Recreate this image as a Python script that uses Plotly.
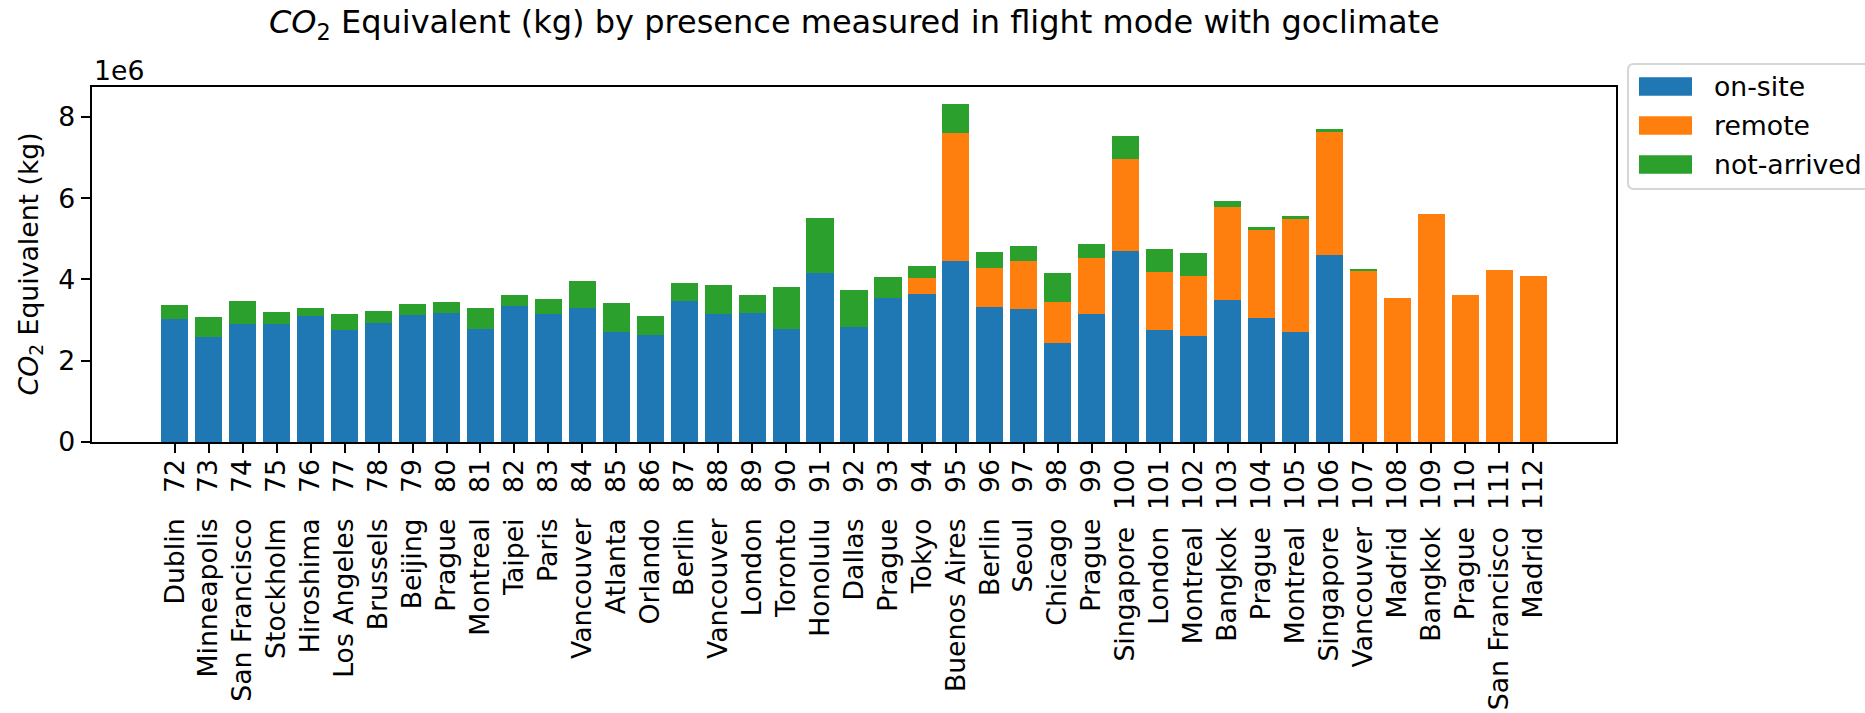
import plotly.graph_objects as go

# Event sites (one bar per event id)
cities = ["Dublin", "Minneapolis", "San Francisco", "Stockholm", "Hiroshima", "Los Angeles",
          "Brussels", "Beijing", "Prague", "Montreal", "Taipei", "Paris", "Vancouver",
          "Atlanta", "Orlando", "Berlin", "Vancouver", "London", "Toronto", "Honolulu",
          "Dallas", "Prague", "Tokyo", "Buenos Aires", "Berlin", "Seoul", "Chicago",
          "Prague", "Singapore", "London", "Montreal", "Bangkok", "Prague", "Montreal",
          "Singapore", "Vancouver", "Madrid", "Bangkok", "Prague", "San Francisco", "Madrid"]
event_ids = list(range(72, 113))

# CO2 equivalent per presence type, in millions of kg
on_site = [3.03, 2.59, 2.91, 2.91, 3.10, 2.76, 2.93, 3.13, 3.18, 2.78, 3.35, 3.15, 3.30,
           2.71, 2.64, 3.47, 3.16, 3.18, 2.78, 4.16, 2.83, 3.55, 3.64, 4.46, 3.33, 3.28,
           2.44, 3.15, 4.70, 2.76, 2.61, 3.50, 3.05, 2.71, 4.60, 0, 0, 0, 0, 0, 0]
remote = [0, 0, 0, 0, 0, 0, 0, 0, 0, 0, 0, 0, 0, 0, 0, 0, 0, 0, 0, 0, 0, 0,
          0.40, 3.14, 0.95, 1.18, 1.01, 1.38, 2.26, 1.43, 1.48, 2.28, 2.17, 2.78, 3.02,
          4.23, 3.55, 5.61, 3.62, 4.23, 4.09]
not_arrived = [0.34, 0.49, 0.56, 0.29, 0.20, 0.39, 0.30, 0.27, 0.27, 0.52, 0.27, 0.37,
               0.66, 0.71, 0.46, 0.44, 0.71, 0.44, 1.04, 1.35, 0.91, 0.51, 0.29, 0.72,
               0.40, 0.36, 0.71, 0.34, 0.57, 0.56, 0.56, 0.15, 0.07, 0.07, 0.08, 0.03,
               0, 0, 0, 0, 0]

series_names = ["on-site", "remote", "not-arrived"]
colors = ["#1f77b4", "#ff7f0e", "#2ca02c"]
y_ticks = [0, 2, 4, 6, 8]

NB = "\u00a0"
labels = [f"{c}{NB * (5 - len(str(n)))}{n}" for c, n in zip(cities, event_ids)]

W, H = 1865, 713
L, R, T, B = 92, 249, 87, 271
FONT = "DejaVu Sans"
FS = 26.7
LW = 2.13


def px_x(p):
    return (p - L) / (W - L - R)


def px_y(p):
    return (H - B - p) / (H - B - T)


fig = go.Figure()
for name, vals, col in zip(series_names, [on_site, remote, not_arrived], colors):
    fig.add_trace(go.Bar(x=labels, y=vals, name=name, width=0.8,
                         marker=dict(color=col, line=dict(width=0)), showlegend=False))

totals_max = max(a + b + c for a, b, c in zip(on_site, remote, not_arrived))

axis_style = dict(ticks="outside", ticklen=9.3, tickwidth=LW, tickcolor="black",
                  showline=True, linewidth=LW, linecolor="black", mirror=True,
                  showgrid=False, zeroline=False, automargin=False,
                  tickfont=dict(family=FONT, size=FS, color="black"))

fig.update_layout(
    width=W, height=H, barmode="stack",
    margin=dict(l=L, r=R, t=T, b=B, autoexpand=False),
    plot_bgcolor="white", paper_bgcolor="white",
    font=dict(family=FONT, size=FS, color="black"),
    xaxis=dict(type="category", range=[-2.44, len(labels) - 1 + 2.44],
               tickangle=-90, ticklabelstandoff=-5, **axis_style),
    yaxis=dict(range=[0, totals_max * 1.05], tickvals=y_ticks,
               ticktext=[str(v) for v in y_ticks], **axis_style),
)

annotations = [
    dict(text="<i>CO</i><sub>2</sub> Equivalent (kg) by presence measured in flight mode with goclimate",
         x=0.5, y=px_y(24), xref="paper", yref="paper", xanchor="center", yanchor="middle",
         showarrow=False, font=dict(family=FONT, size=32)),
    dict(text="<i>CO</i><sub>2</sub> Equivalent (kg)", textangle=-90,
         x=px_x(30), y=px_y(264.5), xref="paper", yref="paper",
         xanchor="center", yanchor="middle", showarrow=False,
         font=dict(family=FONT, size=FS)),
    dict(text="1e6", x=px_x(92), y=px_y(70), xref="paper", yref="paper",
         xanchor="left", yanchor="middle", showarrow=False,
         font=dict(family=FONT, size=FS)),
]

# Legend: rounded frame, colour patches and labels
x0, x1, y0, y1, r = 1628, 1885, 64, 189, 6
frame = (f"M {px_x(x0 + r)},{px_y(y0)} L {px_x(x1 - r)},{px_y(y0)} "
         f"Q {px_x(x1)},{px_y(y0)} {px_x(x1)},{px_y(y0 + r)} "
         f"L {px_x(x1)},{px_y(y1 - r)} Q {px_x(x1)},{px_y(y1)} {px_x(x1 - r)},{px_y(y1)} "
         f"L {px_x(x0 + r)},{px_y(y1)} Q {px_x(x0)},{px_y(y1)} {px_x(x0)},{px_y(y1 - r)} "
         f"L {px_x(x0)},{px_y(y0 + r)} Q {px_x(x0)},{px_y(y0)} {px_x(x0 + r)},{px_y(y0)} Z")
shapes = [dict(type="path", path=frame, xref="paper", yref="paper",
               line=dict(color="#d6d6d6", width=LW), fillcolor="white")]
row_centers = [86.5, 125.5, 164.5]
for name, col, cy in zip(series_names, colors, row_centers):
    shapes.append(dict(type="rect", xref="paper", yref="paper",
                       x0=px_x(1639), x1=px_x(1692), y0=px_y(cy - 9.3), y1=px_y(cy + 9.3),
                       line=dict(width=0), fillcolor=col))
    annotations.append(dict(text=name, x=px_x(1712), y=px_y(cy), xref="paper", yref="paper",
                            xanchor="left", yanchor="middle", showarrow=False,
                            font=dict(family=FONT, size=FS)))

fig.update_layout(annotations=annotations, shapes=shapes)
fig.write_html("out.html")
